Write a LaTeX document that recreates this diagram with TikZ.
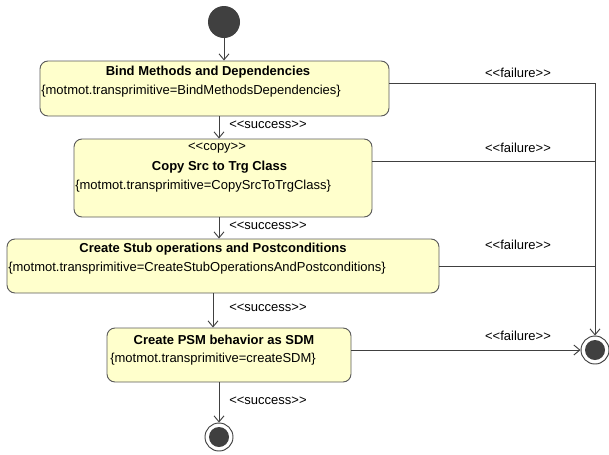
\documentclass[tikz,border=0pt]{standalone}
\usepackage{fontspec}
\setmainfont{Liberation Sans}
\usetikzlibrary{arrows.meta}

\definecolor{actfill}{RGB}{255,255,204}
\definecolor{linegray}{RGB}{64,64,64}
\definecolor{boxgray}{RGB}{90,90,90}

\tikzset{
  actbox/.style={draw=boxgray, fill=actfill, rounded corners=6pt, inner sep=0pt, line width=0.7pt},
  ttl/.style={font=\fontsize{9.75}{11.7}\selectfont\bfseries, inner sep=0pt},
  attr/.style={anchor=west, inner sep=0pt},
  lbl/.style={inner sep=0pt},
  flow/.style={draw=linegray, line width=0.7pt, -{Straight Barb[length=4.5pt,width=7.5pt]}},
  plain/.style={draw=linegray, line width=0.7pt},
  startdot/.style={circle, fill=linegray, minimum size=32*0.75pt, inner sep=0pt},
  enddot/.style={circle, draw=linegray, fill=white, line width=0.7pt, minimum size=28*0.75pt, inner sep=0pt,
    path picture={\fill[linegray] (path picture bounding box.center) circle (7.5pt);}}
}

\begin{document}
\begin{tikzpicture}[x=0.75pt,y=0.75pt,yscale=-1,xscale=1,font=\fontsize{9.75}{11.7}\selectfont]
\useasboundingbox (0,0) rectangle (609,454);

% lanes of the flow
\coordinate (lane) at (219,0);
\coordinate (lanetwo) at (213,0);

% start and final states
\node[startdot] (start) at (224,22) {};
\node[enddot] (done) at (219,437) {};
\node[enddot] (fail) at (595,350) {};

% activities
\node[actbox, minimum width=349*0.75pt, minimum height=55*0.75pt] (bind) at (214.5,88.5) {};
\node[actbox, minimum width=298*0.75pt, minimum height=78*0.75pt] (copy) at (223,178) {};
\node[actbox, minimum width=432*0.75pt, minimum height=54*0.75pt] (stub) at (223,266) {};
\node[actbox, minimum width=244*0.75pt, minimum height=54*0.75pt] (psm) at (229,355) {};

% Text Node
\node[ttl] (bindname) at (208,72) {Bind Methods and Dependencies};
\node[attr] (bindtag) at (41,91) {\{motmot.transprimitive=BindMethodsDependencies\}};
\node[lbl] (copystereo) at (217,148) {<{}<copy>{}>};
\node[ttl] (copyname) at (219.5,167) {Copy Src to Trg Class};
\node[attr] (copytag) at (75,186) {\{motmot.transprimitive=CopySrcToTrgClass\}};
\node[ttl] (stubname) at (213,249) {Create Stub operations and Postconditions};
\node[attr] (stubtag) at (8,268) {\{motmot.transprimitive=CreateStubOperationsAndPostconditions\}};
\node[ttl] (psmname) at (224,340) {Create PSM behavior as SDM};
\node[attr] (psmtag) at (110,359) {\{motmot.transprimitive=createSDM\}};

% success flow
\draw[flow] (start) -- (start |- bind.north);
\draw[flow] (bind.south -| lane) -- (copy.north -| lane);
\draw[flow] (copy.south -| lane) -- (stub.north -| lane);
\draw[flow] (stub.south -| lanetwo) -- (psm.north -| lanetwo);
\draw[flow] (psm.south -| lane) -- (done);

\node[lbl, anchor=west] (ok1) at (229,125) {<{}<success>{}>};
\node[lbl, anchor=west] (ok2) at (229,226) {<{}<success>{}>};
\node[lbl, anchor=west] (ok3) at (229,308) {<{}<success>{}>};
\node[lbl, anchor=west] (ok4) at (229,401) {<{}<success>{}>};

% failure flow (shifts are flipped by yscale=-1)
\draw[flow] ([yshift=-4.1pt]bind.east) -| (fail.north);
\draw[plain] ([yshift=-12.75pt]copy.east) coordinate (c2) -- (c2 -| fail);
\draw[plain] (stub.east) -- (stub.east -| fail);
\draw[flow] ([yshift=-3.75pt]psm.east) -- (fail.west);

\node[lbl] (ko1) at (518,73) {<{}<failure>{}>};
\node[lbl] (ko2) at (518,148) {<{}<failure>{}>};
\node[lbl] (ko3) at (518,245) {<{}<failure>{}>};
\node[lbl] (ko4) at (518,336) {<{}<failure>{}>};

\end{tikzpicture}
\end{document}
